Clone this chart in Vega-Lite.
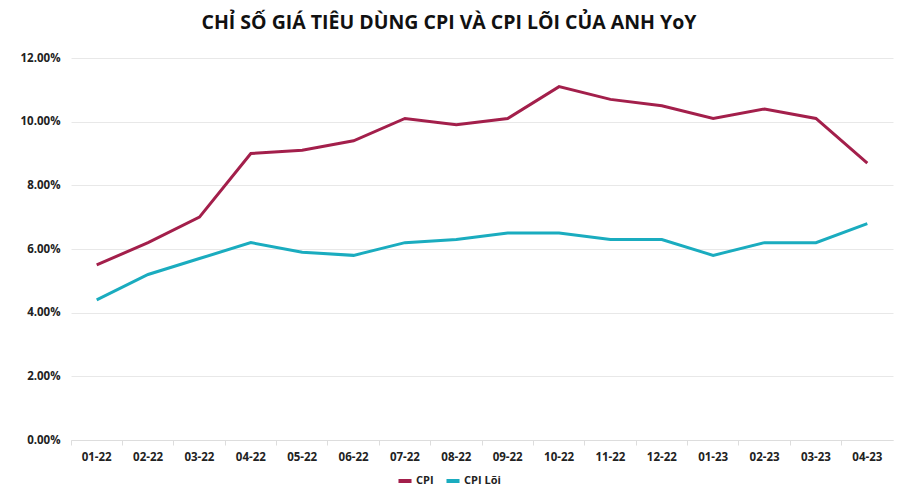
{
  "$schema": "https://vega.github.io/schema/vega-lite/v6.json",
  "width": 900,
  "height": 500,
  "autosize": {"type": "fit", "contains": "padding"},
  "padding": {"left": 20, "right": 7, "top": 12, "bottom": 37},
  "background": "white",
  "title": {
    "text": "CHỈ SỐ GIÁ TIÊU DÙNG CPI VÀ CPI LÕI CỦA ANH YoY",
    "font": "Open Sans",
    "fontSize": 19.5,
    "fontWeight": "bold",
    "color": "#111111",
    "anchor": "middle",
    "dx": -33,
    "offset": 19
  },
  "data": {
    "values": [
      {"month": "01-22", "series": "CPI", "value": 0.055},
      {"month": "02-22", "series": "CPI", "value": 0.062},
      {"month": "03-22", "series": "CPI", "value": 0.070},
      {"month": "04-22", "series": "CPI", "value": 0.090},
      {"month": "05-22", "series": "CPI", "value": 0.091},
      {"month": "06-22", "series": "CPI", "value": 0.094},
      {"month": "07-22", "series": "CPI", "value": 0.101},
      {"month": "08-22", "series": "CPI", "value": 0.099},
      {"month": "09-22", "series": "CPI", "value": 0.101},
      {"month": "10-22", "series": "CPI", "value": 0.111},
      {"month": "11-22", "series": "CPI", "value": 0.107},
      {"month": "12-22", "series": "CPI", "value": 0.105},
      {"month": "01-23", "series": "CPI", "value": 0.101},
      {"month": "02-23", "series": "CPI", "value": 0.104},
      {"month": "03-23", "series": "CPI", "value": 0.101},
      {"month": "04-23", "series": "CPI", "value": 0.087},
      {"month": "01-22", "series": "CPI Lõi", "value": 0.044},
      {"month": "02-22", "series": "CPI Lõi", "value": 0.052},
      {"month": "03-22", "series": "CPI Lõi", "value": 0.057},
      {"month": "04-22", "series": "CPI Lõi", "value": 0.062},
      {"month": "05-22", "series": "CPI Lõi", "value": 0.059},
      {"month": "06-22", "series": "CPI Lõi", "value": 0.058},
      {"month": "07-22", "series": "CPI Lõi", "value": 0.062},
      {"month": "08-22", "series": "CPI Lõi", "value": 0.063},
      {"month": "09-22", "series": "CPI Lõi", "value": 0.065},
      {"month": "10-22", "series": "CPI Lõi", "value": 0.065},
      {"month": "11-22", "series": "CPI Lõi", "value": 0.063},
      {"month": "12-22", "series": "CPI Lõi", "value": 0.063},
      {"month": "01-23", "series": "CPI Lõi", "value": 0.058},
      {"month": "02-23", "series": "CPI Lõi", "value": 0.062},
      {"month": "03-23", "series": "CPI Lõi", "value": 0.062},
      {"month": "04-23", "series": "CPI Lõi", "value": 0.068}
    ]
  },
  "mark": {"type": "line", "strokeWidth": 3},
  "encoding": {
    "x": {
      "field": "month",
      "type": "ordinal",
      "sort": null,
      "scale": {"type": "band", "paddingInner": 0, "paddingOuter": 0},
      "axis": {
        "title": null,
        "labelAngle": 0,
        "labelFont": "Open Sans",
        "labelFontWeight": "bold",
        "labelFontSize": 11.5,
        "labelColor": "#222222",
        "labelPadding": 6,
        "ticks": true,
        "bandPosition": 0,
        "tickColor": "#dddddd",
        "tickSize": 5,
        "domain": true,
        "domainColor": "#dddddd",
        "grid": false
      }
    },
    "y": {
      "field": "value",
      "type": "quantitative",
      "scale": {"domain": [0, 0.12]},
      "axis": {
        "title": null,
        "format": ".2%",
        "values": [0, 0.02, 0.04, 0.06, 0.08, 0.10, 0.12],
        "labelFont": "Open Sans",
        "labelFontWeight": "bold",
        "labelFontSize": 11.5,
        "labelColor": "#222222",
        "labelPadding": 11,
        "ticks": false,
        "domain": false,
        "gridColor": "#e8e8e8",
        "gridWidth": 1
      }
    },
    "color": {
      "field": "series",
      "type": "nominal",
      "scale": {"domain": ["CPI", "CPI Lõi"], "range": ["#A31F4B", "#1AACBF"]},
      "legend": {
        "title": null,
        "orient": "none",
        "legendX": 325,
        "legendY": 414,
        "direction": "horizontal",
        "symbolType": "stroke",
        "symbolStrokeWidth": 4,
        "symbolSize": 170,
        "labelFont": "Open Sans",
        "labelFontWeight": "bold",
        "labelFontSize": 11,
        "labelColor": "#222222",
        "labelOffset": 2,
        "columnPadding": 4
      }
    }
  },
  "config": {"view": {"stroke": null}}
}
